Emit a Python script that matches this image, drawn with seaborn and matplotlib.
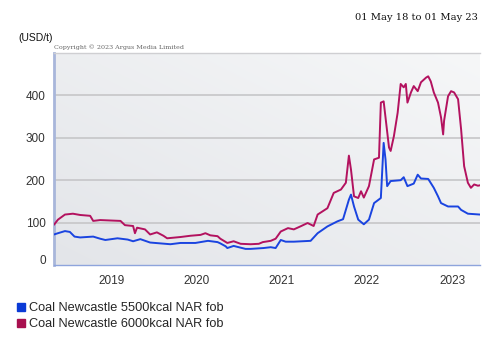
import numpy as np
import pandas as pd
import matplotlib
matplotlib.use("Agg")
import matplotlib.pyplot as plt
from matplotlib.lines import Line2D
import matplotlib.transforms as mtrans
import seaborn as sns

# ---------------- data ----------------
dates_5500 = ["2018-05-01", "2018-05-18", "2018-06-17", "2018-07-08", "2018-07-28", "2018-08-21",
              "2018-10-16", "2018-11-15", "2018-12-07", "2019-01-28", "2019-03-13", "2019-04-05",
              "2019-05-06", "2019-06-17", "2019-09-12", "2019-10-25", "2019-12-28", "2020-02-20",
              "2020-04-01", "2020-04-13", "2020-05-06", "2020-05-13", "2020-06-09", "2020-07-30",
              "2020-08-21", "2020-10-15", "2020-11-15", "2020-12-06", "2020-12-28", "2021-01-18",
              "2021-02-22", "2021-05-05", "2021-06-04", "2021-07-16", "2021-08-28", "2021-09-21",
              "2021-10-16", "2021-10-25", "2021-11-07", "2021-11-25", "2021-12-19", "2022-01-10",
              "2022-02-01", "2022-03-02", "2022-03-14", "2022-03-22", "2022-03-29", "2022-04-13",
              "2022-05-26", "2022-06-08", "2022-06-24", "2022-07-21", "2022-08-07", "2022-08-21",
              "2022-09-21", "2022-10-15", "2022-11-02", "2022-11-15", "2022-12-15", "2023-01-27",
              "2023-02-09", "2023-03-10", "2023-05-01"]
values_5500 = [72, 75, 80, 78, 67, 65,
               67, 62, 59, 63, 60, 56,
               61, 53, 49, 52, 52, 57,
               54, 51, 44, 40, 45, 38,
               38, 40, 42, 40, 59, 55,
               55, 57, 75, 91, 103, 108,
               154, 166, 138, 107, 96, 107,
               146, 158, 288, 249, 186, 198,
               200, 207, 186, 192, 213, 204,
               203, 182, 162, 146, 138, 138,
               130, 121, 119]

dates_6000 = ["2018-05-01", "2018-05-18", "2018-06-17", "2018-07-21", "2018-08-21", "2018-10-03",
              "2018-10-16", "2018-11-15", "2018-12-28", "2019-02-10", "2019-03-01", "2019-04-05",
              "2019-04-13", "2019-04-22", "2019-05-26", "2019-06-17", "2019-07-16", "2019-08-13",
              "2019-08-29", "2019-10-25", "2019-12-07", "2020-01-19", "2020-02-09", "2020-03-01",
              "2020-04-01", "2020-04-13", "2020-05-13", "2020-06-09", "2020-07-09", "2020-08-21",
              "2020-09-25", "2020-10-12", "2020-11-15", "2020-12-06", "2020-12-28", "2021-01-28",
              "2021-02-22", "2021-03-22", "2021-04-22", "2021-05-18", "2021-06-04", "2021-07-16",
              "2021-08-12", "2021-09-12", "2021-10-03", "2021-10-16", "2021-10-25", "2021-11-07",
              "2021-11-25", "2021-12-07", "2021-12-19", "2022-01-10", "2022-02-01", "2022-02-22",
              "2022-03-02", "2022-03-14", "2022-03-22", "2022-04-06", "2022-04-13", "2022-04-27",
              "2022-05-13", "2022-05-26", "2022-06-08", "2022-06-17", "2022-06-24", "2022-07-09",
              "2022-07-21", "2022-08-07", "2022-08-21", "2022-09-12", "2022-09-21", "2022-10-02",
              "2022-10-15", "2022-11-02", "2022-11-15", "2022-11-24", "2022-11-28", "2022-12-15",
              "2022-12-28", "2023-01-10", "2023-01-27", "2023-02-09", "2023-02-22", "2023-03-10",
              "2023-03-23", "2023-04-06", "2023-04-22", "2023-05-01"]
values_6000 = [95, 107, 119, 121, 118, 116,
               104, 106, 105, 104, 94, 92,
               75, 88, 84, 72, 77, 69,
               63, 66, 69, 71, 75, 70,
               68, 62, 52, 56, 50, 49,
               50, 54, 57, 62, 79, 87,
               84, 91, 99, 92, 119, 134,
               170, 178, 194, 258, 225, 162,
               158, 174, 159, 186, 249, 253,
               383, 386, 348, 277, 269, 304,
               359, 427, 419, 427, 383, 407,
               422, 410, 431, 442, 445, 433,
               407, 383, 348, 308, 340, 398,
               410, 407, 391, 320, 233, 194,
               182, 190, 187, 188]

series_names = ["Coal Newcastle 5500kcal NAR fob", "Coal Newcastle 6000kcal NAR fob"]
y_ticks = [0, 100, 200, 300, 400]
x_years = ["2019", "2020", "2021", "2022", "2023"]
date_range_text = "01 May 18 to 01 May 23"
unit_text = "(USD/t)"
copyright_text = "Copyright \u00a9 2023 Argus Media Limited"

# ---------------- build frame ----------------
df = pd.concat([
    pd.DataFrame({"date": pd.to_datetime(dates_5500), "value": values_5500, "series": series_names[0]}),
    pd.DataFrame({"date": pd.to_datetime(dates_6000), "value": values_6000, "series": series_names[1]}),
], ignore_index=True)

colors = {series_names[0]: "#1a44e0", series_names[1]: "#b3125f"}
legend_colors = ["#0a3ad6", "#a8104f"]

sns.set_theme(style="white")
plt.rcParams["font.family"] = ["Liberation Sans", "DejaVu Sans"]

fig = plt.figure(figsize=(5.0, 3.51), dpi=100)
fig.patch.set_facecolor("white")
ax = fig.add_axes([0.108, 0.245, 0.852, 0.604])

# gradient background
grad = np.linspace(0, 1, 256)
gx, gy = np.meshgrid(grad, grad)
g = (gx + gy) / 2.0
c0 = np.array([0.890, 0.898, 0.914])
c1 = np.array([0.965, 0.969, 0.973])
img = c0[None, None, :] * (1 - g[..., None]) + c1[None, None, :] * g[..., None]
ax.imshow(img, extent=[0, 1, 0, 1], transform=ax.transAxes, origin="lower",
          aspect="auto", zorder=0)

sns.lineplot(data=df, x="date", y="value", hue="series", palette=colors,
             linewidth=1.4, ax=ax, legend=False, zorder=3)

ax.set_xlim(pd.Timestamp("2018-05-01"), pd.Timestamp("2023-05-01"))
ax.set_ylim(0, 500)
ax.set_xlabel("")
ax.set_ylabel("")

for v in y_ticks[1:]:
    ax.axhline(v, color="#c6c6c8", linewidth=1.2, zorder=1)

ax.set_yticks(y_ticks)
ax.set_yticklabels([str(v) for v in y_ticks])
ax.set_xticks([pd.Timestamp(f"{y}-01-01") for y in x_years])
ax.set_xticklabels(x_years)
ax.tick_params(axis="both", length=0, labelsize=8.5, colors="#333333")
ax.tick_params(axis="y", pad=6)
ax.tick_params(axis="x", pad=7)
# lift the "0" label slightly
lbl0 = ax.get_yticklabels()[0]
lbl0.set_transform(lbl0.get_transform() + mtrans.ScaledTranslation(0, 6 / 100, fig.dpi_scale_trans))

ax.spines["right"].set_visible(False)
ax.spines["top"].set_color("#cfcfd2")
ax.spines["top"].set_linewidth(1.0)
ax.spines["left"].set_color("#a8b6da")
ax.spines["left"].set_linewidth(2.0)
ax.spines["bottom"].set_color("#8ea4dc")
ax.spines["bottom"].set_linewidth(1.0)

# texts
fig.text(0.956, 1 - 18 / 351, date_range_text, ha="right", va="center",
         fontsize=7.1, family=["DejaVu Serif"], color="#111111")
fig.text(0.036, 1 - 38 / 351, unit_text, ha="left", va="center",
         fontsize=7.5, color="#111111")
fig.text(0.108, 1 - 47.5 / 351, copyright_text, ha="left", va="center",
         fontsize=4.6, family=["DejaVu Serif"], color="#666666")

# legend
handles = [Line2D([0], [0], marker="s", linestyle="none", markersize=6,
                  markerfacecolor=legend_colors[i], markeredgecolor=legend_colors[i])
           for i in range(2)]
fig.legend(handles, series_names, loc="upper left", bbox_to_anchor=(0.03, 1 - 302 / 351),
           frameon=False, fontsize=9.2, handletextpad=0.1, labelspacing=0.35,
           handlelength=1.0, borderaxespad=0, borderpad=0)

fig.savefig("out.png", dpi=100)
